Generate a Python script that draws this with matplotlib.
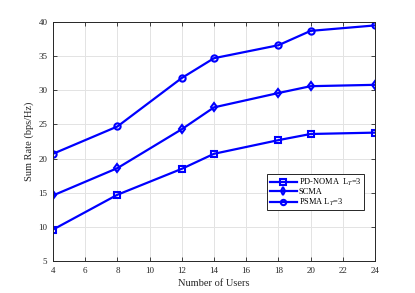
import matplotlib.pyplot as plt
import numpy as np

users = [4, 8, 12, 14, 18, 20, 24]
pd_noma = [9.6, 14.7, 18.5, 20.7, 22.7, 23.6, 23.8]
scma = [14.6, 18.6, 24.3, 27.5, 29.6, 30.6, 30.8]
psma = [20.7, 24.7, 31.8, 34.7, 36.6, 38.7, 39.5]

plt.rcParams['font.family'] = ['Liberation Serif', 'DejaVu Serif']
plt.rcParams['mathtext.fontset'] = 'stix'

fig = plt.figure(figsize=(4.15, 2.93), dpi=100)
ax = fig.add_axes([0.1277, 0.1092, 0.7759, 0.8157])

kw = dict(color='#0000ff', lw=1.6, ms=4.5, mfc='none', mew=1.5)
ax.plot(users, pd_noma, marker='s', label='PD-NOMA  L$_T$=3', **kw)
ax.plot(users, scma, marker='d', label='SCMA', **kw)
ax.plot(users, psma, marker='o', label='PSMA L$_T$=3', **kw)

ax.set_xlim(4, 24)
ax.set_ylim(5, 40)
ax.set_xticks(np.arange(4, 25, 2))
ax.set_yticks(np.arange(5, 41, 5))
ax.grid(True, color='#e3e3e3', lw=0.7)
ax.set_axisbelow(True)
ax.tick_params(direction='in', top=True, right=True, labelsize=6.5, length=3,
               width=0.6, colors='#262626', pad=4)
for s in ax.spines.values():
    s.set_color('#262626')
    s.set_linewidth(0.7)

ax.set_xlabel('Number of Users', fontsize=7.5, color='#262626', labelpad=3)
ax.set_ylabel('Sum Rate (bps/Hz)', fontsize=7.5, color='#262626', labelpad=3)

leg = ax.legend(loc='upper left', bbox_to_anchor=(0.665, 0.364), fontsize=6,
                fancybox=False, edgecolor='#262626', framealpha=1,
                handlelength=3.3, handletextpad=0.2, borderpad=0.3,
                labelspacing=0.05, borderaxespad=0, markerscale=0.85)
leg.get_frame().set_linewidth(0.7)

fig.savefig('out.png', dpi=100)
